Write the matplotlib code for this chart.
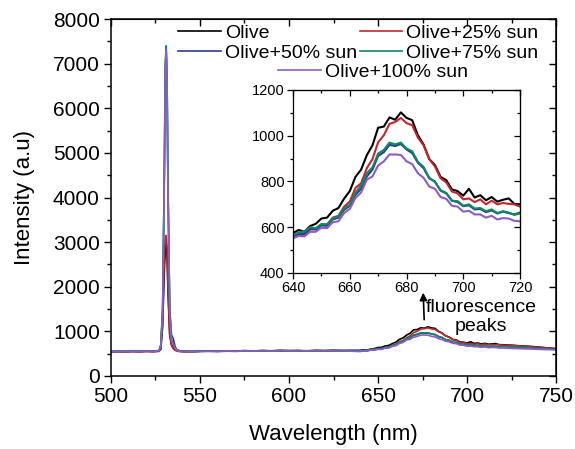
import matplotlib.pyplot as plt
from matplotlib.ticker import MultipleLocator

plt.rcParams['font.family'] = ['Liberation Sans', 'DejaVu Sans']

# wavelengths (nm)
wavelength = [500, 504, 508, 512, 516, 520, 524, 527, 528, 529, 530, 530.5, 531, 531.5,
              532, 533, 534, 535, 536, 537, 539, 542, 546, 550, 555, 560, 565, 570,
              575, 580, 585, 590, 595, 600, 605, 610, 615, 620, 625, 630, 635,
              640, 642, 644, 646, 648, 650, 652, 654, 656, 658, 660, 662, 664, 666,
              668, 670, 672, 674, 676, 678, 680, 682, 684, 686, 688, 690, 692, 694,
              696, 698, 700, 702, 704, 706, 708, 710, 712, 714, 716, 718, 720,
              725, 730, 735, 740, 745, 750]

olive = [545, 550, 548, 552, 547, 555, 550, 560, 600, 1100, 2400, 2800, 2950, 2700,
         1900, 900, 700, 640, 590, 570, 555, 550, 548, 555, 560, 555, 565, 560,
         568, 562, 570, 565, 572, 568, 570, 565, 572, 570, 575, 572, 575,
         575, 588, 580, 605, 615, 638, 642, 672, 684, 725, 758, 820, 852, 915,
         958, 1035, 1040, 1080, 1070, 1102, 1078, 1068, 1002, 962, 898, 872, 820, 806,
         765, 758, 738, 768, 730, 740, 718, 732, 712, 720, 726, 702, 700,
         690, 675, 665, 650, 630, 615]

sun25 = [538, 542, 536, 545, 540, 546, 542, 552, 640, 1250, 2700, 3050, 3150, 2900,
         2000, 950, 680, 610, 575, 558, 545, 542, 545, 550, 552, 548, 556, 552,
         560, 555, 562, 558, 565, 560, 562, 558, 565, 562, 566, 560, 556,
         552, 566, 565, 590, 592, 612, 612, 642, 650, 690, 712, 772, 792, 858,
         898, 972, 1002, 1052, 1060, 1078, 1055, 1046, 992, 958, 898, 866, 814, 796,
         756, 748, 722, 726, 710, 722, 700, 716, 700, 706, 702, 700, 690,
         685, 670, 655, 645, 628, 610]

sun50 = [550, 555, 552, 558, 553, 560, 556, 570, 700, 1500, 4600, 6900, 7350, 6600,
         4300, 1500, 920, 840, 660, 590, 560, 552, 550, 556, 560, 556, 564, 558,
         566, 560, 568, 562, 570, 566, 568, 562, 570, 566, 570, 566, 562,
         560, 570, 570, 594, 590, 608, 606, 634, 642, 676, 694, 742, 768, 822,
         852, 912, 928, 960, 955, 964, 940, 924, 882, 858, 814, 800, 760, 748,
         716, 710, 692, 696, 678, 680, 666, 674, 660, 668, 662, 656, 664,
         650, 640, 630, 620, 610, 598]

sun75 = [548, 552, 550, 556, 551, 558, 554, 566, 680, 1450, 4700, 7000, 7400, 6700,
         4400, 1450, 820, 720, 630, 580, 556, 550, 549, 554, 558, 555, 562, 557,
         565, 559, 567, 561, 569, 565, 567, 561, 569, 565, 570, 568, 566,
         565, 578, 580, 600, 596, 614, 612, 638, 648, 682, 698, 752, 782, 836,
         862, 922, 938, 970, 962, 970, 944, 932, 886, 864, 816, 798, 762, 750,
         716, 714, 694, 700, 682, 684, 670, 678, 662, 670, 664, 654, 660,
         648, 640, 630, 618, 608, 600]

sun100 = [546, 550, 548, 554, 549, 556, 552, 564, 670, 1400, 4500, 6800, 7300, 6550,
          4200, 1400, 800, 700, 620, 575, 552, 548, 547, 552, 556, 553, 560, 555,
          562, 557, 565, 559, 566, 562, 564, 559, 566, 562, 566, 560, 556,
          552, 562, 560, 580, 580, 598, 596, 622, 626, 662, 680, 728, 752, 808,
          822, 870, 888, 918, 918, 916, 888, 876, 836, 816, 778, 768, 732, 724,
          694, 690, 668, 672, 656, 656, 642, 650, 634, 640, 638, 628, 626,
          618, 612, 605, 598, 592, 585]

labels = ['Olive', 'Olive+25% sun', 'Olive+50% sun', 'Olive+75% sun', 'Olive+100% sun']
colors = ['#000000', '#c1272d', '#2b3990', '#0e8a60', '#8e5cc6']
series = [olive, sun25, sun50, sun75, sun100]

fig = plt.figure(figsize=(5.75, 4.49), dpi=100)
ax = fig.add_axes([0.193, 0.1626, 0.774, 0.795])

lines = []
for y, c, lab in zip(series, colors, labels):
    ln, = ax.plot(wavelength, y, color=c, lw=1.2, label=lab)
    lines.append(ln)

ax.set_xlim(500, 750)
ax.set_ylim(0, 8000)
ax.xaxis.set_major_locator(MultipleLocator(50))
ax.xaxis.set_minor_locator(MultipleLocator(25))
ax.yaxis.set_major_locator(MultipleLocator(1000))
ax.yaxis.set_minor_locator(MultipleLocator(500))
ax.tick_params(which='both', direction='out', labelsize=15, width=1.0)
ax.tick_params(which='major', length=5, pad=3)
ax.tick_params(which='minor', length=3)
for s in ax.spines.values():
    s.set_linewidth(1.1)

# mirrored inward ticks on top / right
top = ax.secondary_xaxis('top')
top.xaxis.set_major_locator(MultipleLocator(50))
top.xaxis.set_minor_locator(MultipleLocator(25))
top.tick_params(which='both', direction='in', labeltop=False, width=1.0)
top.tick_params(which='major', length=5)
top.tick_params(which='minor', length=3)
right = ax.secondary_yaxis('right')
right.yaxis.set_major_locator(MultipleLocator(1000))
right.yaxis.set_minor_locator(MultipleLocator(500))
right.tick_params(which='both', direction='in', labelright=False, width=1.0)
right.tick_params(which='major', length=5)
right.tick_params(which='minor', length=3)

ax.set_xlabel('Wavelength (nm)', fontsize=16, labelpad=13)
ax.set_ylabel('Intensity (a.u)', fontsize=16, labelpad=13)

# arrow + annotation
ax.annotate('', xy=(675.3, 1930), xytext=(676, 1200),
            arrowprops=dict(arrowstyle='-|>', color='black', lw=1.2, mutation_scale=11))
ax.text(708, 1330, 'fluorescence\npeaks', fontsize=14, ha='center', va='center',
        linespacing=1.15)

# legends (row-wise order: Olive, +25% / +50%, +75%)
order = [0, 2, 1, 3]
leg1 = ax.legend([lines[i] for i in order], [labels[i] for i in order], ncol=2,
                 frameon=False, fontsize=14, loc='upper left',
                 bbox_to_anchor=(178 / 575, 1 - 24 / 449),
                 bbox_transform=fig.transFigure, borderpad=0, borderaxespad=0,
                 handlelength=2.2, handletextpad=0.2, columnspacing=0.15,
                 labelspacing=0.12)
ax.add_artist(leg1)
ax.legend(lines[4:], labels[4:], frameon=False, fontsize=14,
          loc='upper left', bbox_to_anchor=(278 / 575, 1 - 63 / 449),
          bbox_transform=fig.transFigure, borderpad=0, borderaxespad=0,
          handlelength=2.2, handletextpad=0.2)

# inset
ins = fig.add_axes([0.5096, 0.392, 0.3948, 0.4076])
for y, c in zip(series, colors):
    ins.plot(wavelength, y, color=c, lw=1.5)
ins.set_xlim(640, 720)
ins.set_ylim(400, 1200)
ins.xaxis.set_major_locator(MultipleLocator(20))
ins.xaxis.set_minor_locator(MultipleLocator(10))
ins.yaxis.set_major_locator(MultipleLocator(200))
ins.yaxis.set_minor_locator(MultipleLocator(100))
ins.tick_params(which='both', direction='out', labelsize=10.5, width=0.9, pad=2)
ins.tick_params(which='major', length=4)
ins.tick_params(which='minor', length=2.5)
for s in ins.spines.values():
    s.set_linewidth(0.9)
itop = ins.secondary_xaxis('top')
itop.xaxis.set_major_locator(MultipleLocator(20))
itop.xaxis.set_minor_locator(MultipleLocator(10))
itop.tick_params(which='both', direction='in', labeltop=False, width=0.9)
itop.tick_params(which='major', length=4)
itop.tick_params(which='minor', length=2.5)
iright = ins.secondary_yaxis('right')
iright.yaxis.set_major_locator(MultipleLocator(200))
iright.yaxis.set_minor_locator(MultipleLocator(100))
iright.tick_params(which='both', direction='in', labelright=False, width=0.9)
iright.tick_params(which='major', length=4)
iright.tick_params(which='minor', length=2.5)

fig.savefig('out.png', dpi=100)
